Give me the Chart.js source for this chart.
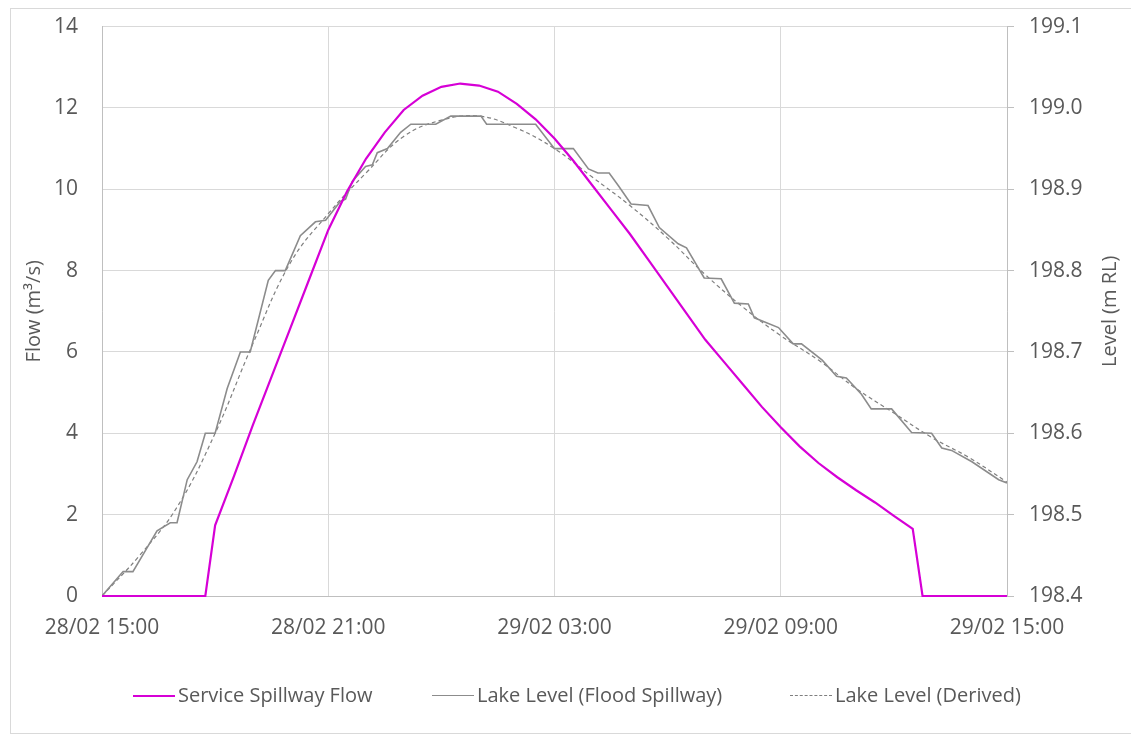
<!DOCTYPE html>
<html>
<head>
<meta charset="utf-8">
<script src="https://cdn.jsdelivr.net/npm/chart.js@4.4.1/dist/chart.umd.min.js"></script>
<style>
  html, body { margin: 0; padding: 0; background: #fff; overflow: hidden; }
  #frame { position: absolute; left: 10px; top: 8px; width: 1130px; height: 726px; border: 1px solid #d9d9d9; box-sizing: border-box; }
  #wrap { position: absolute; left: 0; top: -10px; width: 1131px; height: 750px; }
  #legend { position: absolute; left: 0; top: 681px; width: 1131px; height: 28px; font-family: "Open Sans", sans-serif; font-size: 20px; color: #595959; }
  .item { position: absolute; top: 0; height: 28px; line-height: 28px; white-space: nowrap; }
  .sample { display: inline-block; width: 42px; height: 0; vertical-align: middle; margin-right: 3px; position: relative; top: -1px; }
</style>
</head>
<body>
<div id="frame"></div>
<div id="wrap"><canvas id="myChart" width="1131" height="750"></canvas></div>
<div id="legend"></div>
<script>
// x axis: hours after 28/02 15:00
var tickHours = [0, 6, 12, 18, 24];
var tickLabels = ['28/02 15:00', '28/02 21:00', '29/02 03:00', '29/02 09:00', '29/02 15:00'];

// Service Spillway Flow (m3/s)
var flowHours = [0, 2.74, 3.0, 3.5, 4.0, 4.5, 5.0, 5.5, 6.0, 6.5, 7.0, 7.5, 8.0, 8.5, 9.0, 9.5, 10.0, 10.5, 11.0, 11.5,
  12.0, 12.5, 13.0, 13.5, 14.0, 14.5, 15.0, 15.5, 16.0, 16.5, 17.0, 17.5, 18.0, 18.5, 19.0, 19.5, 20.0, 20.5, 21.0, 21.5, 21.76, 24];
var flowValues = [0, 0, 1.74, 2.95, 4.2, 5.4, 6.6, 7.8, 9.0, 9.95, 10.75, 11.4, 11.95, 12.3, 12.52, 12.6, 12.55, 12.4, 12.1, 11.72,
  11.25, 10.7, 10.1, 9.5, 8.9, 8.25, 7.6, 6.95, 6.3, 5.75, 5.2, 4.65, 4.15, 3.68, 3.27, 2.92, 2.6, 2.3, 1.97, 1.65, 0, 0];

// Lake Level (Flood Spillway), m RL
var lakeHours = [0, 0.56, 0.82, 1.46, 1.81, 1.99, 2.26, 2.52, 2.74, 3.0, 3.32, 3.67, 3.93, 4.41, 4.6, 4.86, 5.26, 5.66, 5.93,
  6.32, 6.46, 6.64, 6.99, 7.17, 7.3, 7.57, 7.92, 8.19, 8.85, 9.25, 10.05, 10.2, 11.5, 12.0, 12.5, 12.9, 13.15, 13.45, 13.7,
  14.03, 14.48, 14.78, 15.28, 15.5, 15.97, 16.42, 16.77, 17.14, 17.3, 17.94, 18.33, 18.55, 19.1, 19.48, 19.74, 20.14, 20.4,
  20.94, 21.47, 22.0, 22.27, 22.53, 23.07, 23.78, 24.0];
var lakeLevels = [198.400, 198.430, 198.430, 198.480, 198.490, 198.490, 198.543, 198.565, 198.600, 198.600, 198.655, 198.700,
  198.700, 198.788, 198.800, 198.800, 198.843, 198.860, 198.862, 198.885, 198.888, 198.910, 198.928, 198.930, 198.945, 198.950,
  198.970, 198.980, 198.980, 198.990, 198.990, 198.980, 198.980, 198.950, 198.950, 198.925, 198.920, 198.920, 198.904, 198.882,
  198.880, 198.853, 198.833, 198.828, 198.791, 198.790, 198.760, 198.759, 198.742, 198.730, 198.710, 198.710, 198.690, 198.670,
  198.668, 198.648, 198.630, 198.630, 198.601, 198.600, 198.582, 198.579, 198.565, 198.543, 198.539];

// Lake Level (Derived), m RL
var derivedHours = [0, 1, 2, 3, 4, 5, 6, 7, 8, 9, 10, 11, 12, 13, 14, 15, 16, 17, 18, 19, 20, 21, 22, 23, 24];
var derivedLevels = [198.40, 198.45, 198.51, 198.60, 198.71, 198.81, 198.87, 198.92, 198.965, 198.985, 198.99, 198.975,
  198.95, 198.915, 198.88, 198.84, 198.795, 198.755, 198.72, 198.69, 198.655, 198.625, 198.595, 198.57, 198.54];

function pairs(xs, ys) {
  return xs.map(function (x, i) { return { x: x, y: ys[i] }; });
}

var textColor = '#595959';
var axisColor = '#bfbfbf';
var gridColor = '#d9d9d9';
var fontFamily = '"Open Sans", sans-serif';

// right axis title reads bottom-to-top like the left one
var rightTitle = {
  id: 'rightTitle',
  afterDraw: function (chart) {
    var ctx = chart.ctx;
    var area = chart.chartArea;
    ctx.save();
    ctx.translate(1110, (area.top + area.bottom) / 2);
    ctx.rotate(-Math.PI / 2);
    ctx.fillStyle = textColor;
    ctx.font = '20px ' + fontFamily;
    ctx.textAlign = 'center';
    ctx.textBaseline = 'middle';
    ctx.fillText('Level (m RL)', 0, 0);
    ctx.restore();
  }
};

var ctx = document.getElementById('myChart').getContext('2d');
var chart = new Chart(ctx, {
  type: 'line',
  data: {
    datasets: [{
      label: 'Service Spillway Flow',
      data: pairs(flowHours, flowValues),
      borderColor: '#d600d6',
      borderWidth: 2.2,
      pointRadius: 0,
      tension: 0,
      clip: 4,
      yAxisID: 'y'
    }, {
      label: 'Lake Level (Flood Spillway)',
      data: pairs(lakeHours, lakeLevels),
      borderColor: '#8c8c8c',
      borderWidth: 1.6,
      pointRadius: 0,
      tension: 0,
      yAxisID: 'y1'
    }, {
      label: 'Lake Level (Derived)',
      data: pairs(derivedHours, derivedLevels),
      borderColor: '#7f7f7f',
      borderWidth: 1.2,
      borderDash: [4, 3],
      pointRadius: 0,
      tension: 0.4,
      yAxisID: 'y1'
    }]
  },
  options: {
    responsive: false,
    animation: false,
    layout: { padding: { left: 10, right: 0, top: 5, bottom: 94 } },
    plugins: {
      legend: { display: false },
      tooltip: { enabled: false }
    },
    scales: {
      x: {
        type: 'linear',
        min: 0,
        max: 24,
        afterBuildTicks: function (scale) {
          scale.ticks = tickHours.map(function (h) { return { value: h }; });
        },
        afterFit: function (scale) { scale.height = 50; },
        ticks: {
          color: textColor,
          font: { family: fontFamily, size: 21 },
          padding: 19,
          maxRotation: 0,
          callback: function (value) {
            var i = tickHours.indexOf(value);
            return i >= 0 ? tickLabels[i] : '';
          }
        },
        grid: { color: gridColor, drawTicks: false },
        border: { color: axisColor }
      },
      y: {
        position: 'left',
        min: 0,
        max: 14,
        afterFit: function (scale) { scale.width = 92; },
        ticks: {
          stepSize: 2,
          color: textColor,
          font: { family: fontFamily, size: 21 },
          padding: 24
        },
        grid: { color: gridColor, drawTicks: false },
        border: { color: axisColor },
        title: {
          display: true,
          text: 'Flow (m³/s)',
          color: textColor,
          font: { family: fontFamily, size: 20 },
          padding: { top: 12, bottom: 0 }
        }
      },
      y1: {
        position: 'right',
        min: 198.4,
        max: 199.1,
        afterFit: function (scale) { scale.width = 124; },
        afterBuildTicks: function (scale) {
          var t = [];
          for (var i = 0; i <= 7; i++) t.push({ value: 198.4 + i * 0.1 });
          scale.ticks = t;
        },
        ticks: {
          color: textColor,
          font: { family: fontFamily, size: 21 },
          padding: 15,
          callback: function (value) { return value.toFixed(1); }
        },
        grid: { drawOnChartArea: false, color: axisColor, tickLength: 7 },
        border: { color: axisColor }
      }
    }
  },
  plugins: [rightTitle]
});

// legend built from the datasets
var legendLeft = [133, 432, 790];
var legend = document.getElementById('legend');
chart.data.datasets.forEach(function (ds, i) {
  var item = document.createElement('div');
  item.className = 'item';
  item.style.left = legendLeft[i] + 'px';
  var sample = document.createElement('span');
  sample.className = 'sample';
  var w = ds.borderWidth > 2 ? 2 : 1.5;
  sample.style.borderTop = w + 'px ' + (ds.borderDash ? 'dashed' : 'solid') + ' ' + ds.borderColor;
  item.appendChild(sample);
  item.appendChild(document.createTextNode(ds.label));
  legend.appendChild(item);
});
</script>
</body>
</html>
